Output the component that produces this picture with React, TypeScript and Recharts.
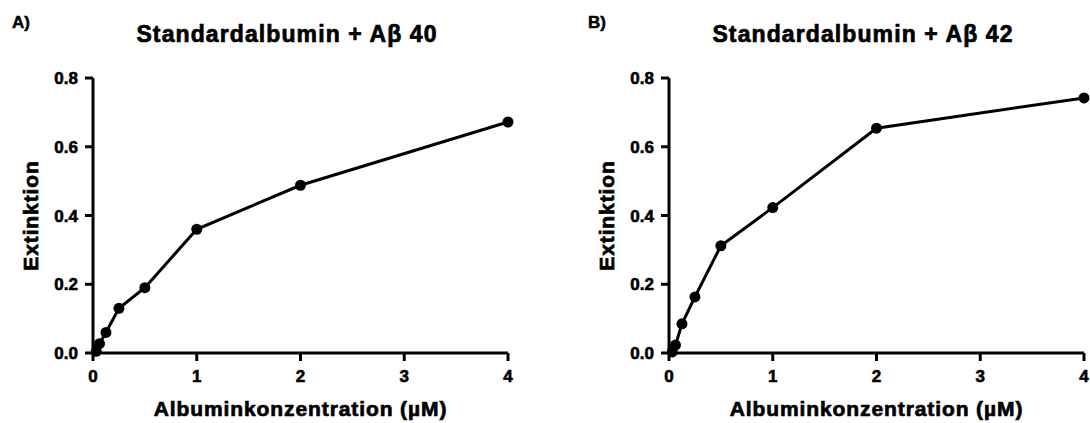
import { LineChart, Line, XAxis, YAxis } from "recharts";

const concentrations = [0.03125, 0.0625, 0.125, 0.25, 0.5, 1, 2, 4];
const ab40Values = [0.005, 0.027, 0.06, 0.13, 0.19, 0.36, 0.488, 0.672];
const ab42Values = [0.003, 0.023, 0.085, 0.163, 0.312, 0.423, 0.654, 0.742];
const xTicks = [0, 1, 2, 3, 4];
const yTicks = [0, 0.2, 0.4, 0.6, 0.8];

const FONT = "'Liberation Sans', Arial, Helvetica, sans-serif";

interface PanelProps {
  letter: string;
  title: string;
  values: number[];
  left: number;
  width: number;
}

function Panel({ letter, title, values, left, width }: PanelProps) {
  const data = concentrations.map((c, i) => ({ x: c, y: values[i] }));
  const tickStyle = {
    fill: "#000",
    stroke: "#000",
    strokeWidth: 0.6,
    fontSize: 17,
    fontWeight: 700,
    fontFamily: FONT,
  };
  const labelStyle = {
    fill: "#000",
    stroke: "#000",
    strokeWidth: 0.7,
    fontSize: 21,
    fontWeight: 700,
    fontFamily: FONT,
    letterSpacing: "0.9px",
    textAnchor: "middle" as const,
  };

  return (
    <div style={{ position: "absolute", left, top: 0, width, height: 423 }}>
      <div
        style={{
          position: "absolute",
          left: 12,
          top: 13,
          fontFamily: FONT,
          fontWeight: 700,
          fontSize: 17,
          WebkitTextStroke: "0.5px #000",
        }}
      >
        {letter}
      </div>
      <div
        style={{
          position: "absolute",
          left: 287,
          top: 21,
          transform: "translateX(-50%)",
          fontFamily: FONT,
          fontWeight: 700,
          fontSize: 23,
          letterSpacing: "1.1px",
          lineHeight: "26px",
          whiteSpace: "nowrap",
          WebkitTextStroke: "0.7px #000",
        }}
      >
        {title}
      </div>
      <LineChart
        width={width}
        height={423}
        data={data}
        margin={{ top: 78, right: width - 508, bottom: 0, left: 0 }}
      >
        <XAxis
          dataKey="x"
          type="number"
          domain={[0, 4]}
          ticks={xTicks}
          height={70}
          tick={tickStyle}
          tickSize={8}
          tickMargin={9}
          axisLine={{ stroke: "#000", strokeWidth: 3 }}
          tickLine={{ stroke: "#000", strokeWidth: 3 }}
          label={{
            value: "Albuminkonzentration (µM)",
            position: "insideBottom",
            offset: 7,
            style: labelStyle,
          }}
        />
        <YAxis
          type="number"
          domain={[0, 0.8]}
          ticks={yTicks}
          width={93}
          tick={tickStyle}
          tickSize={8}
          tickMargin={7}
          tickFormatter={(v: number) => v.toFixed(1)}
          axisLine={{ stroke: "#000", strokeWidth: 3 }}
          tickLine={{ stroke: "#000", strokeWidth: 3 }}
          label={{
            value: "Extinktion",
            angle: -90,
            position: "insideLeft",
            offset: 31,
            style: labelStyle,
          }}
        />
        <Line
          dataKey="y"
          type="linear"
          stroke="#000"
          strokeWidth={3}
          dot={{ r: 5.5, fill: "#000", stroke: "#000", strokeWidth: 0 }}
          isAnimationActive={false}
        />
      </LineChart>
    </div>
  );
}

export default function App() {
  return (
    <div
      style={{
        position: "fixed",
        left: 0,
        top: 0,
        width: 1090,
        height: 423,
        background: "#fff",
        overflow: "hidden",
      }}
    >
      <Panel letter="A)" title="Standardalbumin + Aβ 40" values={ab40Values} left={0} width={545} />
      <Panel letter="B)" title="Standardalbumin + Aβ 42" values={ab42Values} left={576} width={514} />
    </div>
  );
}
